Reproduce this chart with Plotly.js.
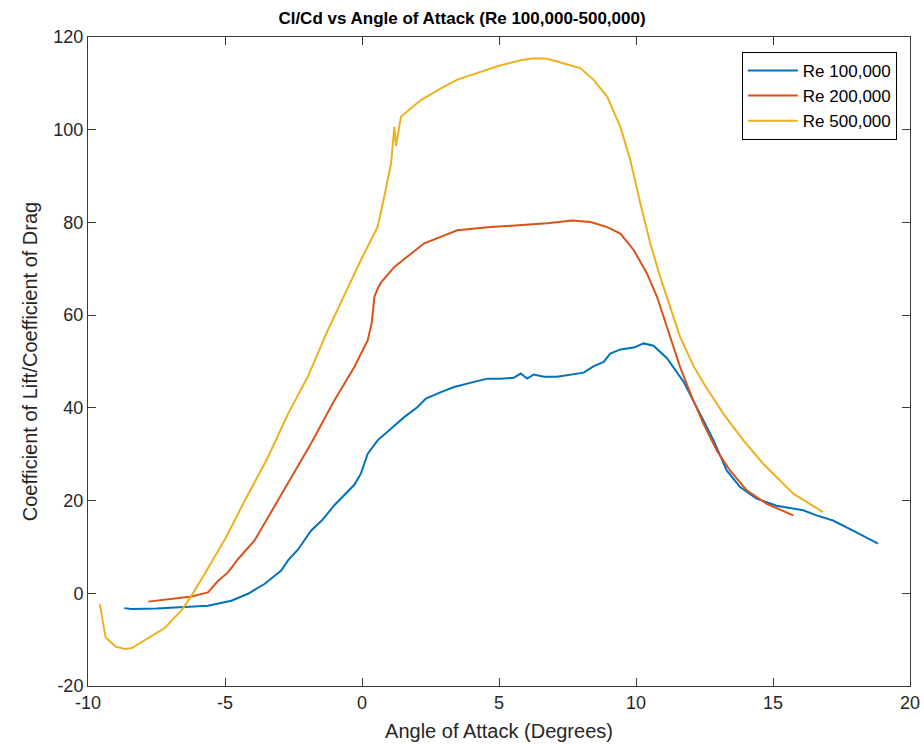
<!DOCTYPE html>
<html>
<head>
<meta charset="utf-8">
<script src="https://cdn.plot.ly/plotly-3.0.1.min.js"></script>
<style>html,body{margin:0;padding:0;background:#fff;}#chart{width:924px;height:744px;}</style>
</head>
<body>
<div id="chart"></div>
<script>
const seriesNames = ["Re 100,000", "Re 200,000", "Re 500,000"];
const seriesColors = ["#0072BD", "#D95319", "#EDB120"];

const re100_aoa = [-8.68,-8.41,-7.5,-6.59,-5.62,-4.77,-4.16,-3.56,-2.95,-2.70,-2.34,-1.86,-1.45,-1.01,-0.60,-0.28,-0.04,0.21,0.57,1.06,1.54,2.03,2.33,2.88,3.36,4.09,4.58,5.06,5.54,5.79,6.03,6.27,6.64,7.12,7.49,8.09,8.46,8.82,9.06,9.43,9.92,10.28,10.64,11.13,11.74,12.10,12.46,12.83,13.31,13.80,14.40,15.13,16.10,16.59,17.19,17.92,18.83];
const re100_clcd = [-3.2,-3.4,-3.3,-3.0,-2.7,-1.6,-0.1,2.0,4.9,7.1,9.4,13.5,15.8,19.0,21.4,23.4,25.8,30.1,33.0,35.5,38.0,40.2,42.0,43.4,44.5,45.6,46.3,46.3,46.5,47.4,46.3,47.2,46.7,46.7,47.0,47.6,49.0,49.9,51.7,52.6,53.0,53.9,53.4,50.7,45.6,41.6,37.3,33.0,26.5,22.9,20.4,18.9,17.9,16.8,15.7,13.5,10.7];

const re200_aoa = [-7.8,-7.2,-6.59,-6.22,-5.62,-5.25,-4.89,-4.52,-3.92,-3.56,-2.70,-1.86,-1.01,-0.28,0.21,0.36,0.45,0.57,0.69,1.18,2.27,3.48,4.70,5.79,6.52,6.76,7.67,8.34,8.95,9.43,9.92,10.40,10.77,11.13,11.49,11.61,12.04,12.46,12.95,13.43,14.04,14.77,15.74];
const re200_clcd = [-1.8,-1.4,-1.0,-0.7,0.2,2.7,4.5,7.4,11.4,15.0,23.6,32.3,41.6,48.8,54.6,58.5,63.9,65.7,67.0,70.4,75.5,78.3,79.0,79.4,79.7,79.8,80.4,80.1,79.0,77.6,74.0,69.0,63.9,57.5,51.0,48.8,42.3,36.6,30.8,26.5,22.2,19.3,16.8];

const re500_aoa = [-9.57,-9.36,-9.0,-8.65,-8.4,-7.8,-7.2,-6.59,-6.22,-5.74,-5.38,-4.95,-4.40,-3.43,-2.70,-1.98,-1.25,-0.52,-0.04,0.33,0.57,0.81,1.06,1.18,1.24,1.42,2.15,2.88,3.48,5.0,5.79,6.27,6.76,7.37,7.97,8.46,8.95,9.43,9.79,10.16,10.52,10.88,11.25,11.61,12.10,12.50,13.19,13.92,14.65,15.74,16.83];
const re500_clcd = [-2.3,-9.5,-11.5,-12.0,-11.8,-9.7,-7.5,-3.7,-0.5,4.2,7.8,12.2,18.6,29.4,38.7,46.7,56.7,66.1,71.9,76.2,79.0,85.5,92.7,100.6,96.5,102.8,106.4,108.9,110.8,113.8,115.0,115.4,115.3,114.3,113.3,110.7,107.1,100.6,93.5,84.1,75.5,68.3,61.8,55.3,49.0,45.0,38.7,33.0,27.9,21.5,17.5];

const xs = [re100_aoa, re200_aoa, re500_aoa];
const ys = [re100_clcd, re200_clcd, re500_clcd];

const traces = xs.map((x, i) => ({
  x: x, y: ys[i], type: 'scatter', mode: 'lines', name: seriesNames[i],
  line: {color: seriesColors[i], width: 2}
}));

const font = "'Liberation Sans', Arial, Helvetica, sans-serif";
const axisCommon = {
  showline: true, mirror: 'ticks', linecolor: '#3a3a3a', linewidth: 1,
  ticks: 'inside', ticklen: 8, tickcolor: '#3a3a3a', showgrid: false, zeroline: false,
  tickfont: {family: font, size: 18, color: '#262626'}
};

const layout = {
  width: 924, height: 744,
  margin: {l: 88, r: 14, t: 37, b: 58},
  paper_bgcolor: '#fff', plot_bgcolor: '#fff',
  font: {family: font, color: '#262626'},
  title: {text: '<b>Cl/Cd vs Angle of Attack (Re 100,000-500,000)</b>', font: {family: font, size: 17, color: '#000'}, x: 0.5, xref: 'container', xanchor: 'center', y: 0.976, yanchor: 'middle'},
  xaxis: Object.assign({}, axisCommon, {range: [-10, 20], tickvals: [-10,-5,0,5,10,15,20], ticktext: ['-10','-5','0','5','10','15','20'],
    title: {text: 'Angle of Attack (Degrees)', font: {family: font, size: 20, color: '#262626'}, standoff: 12}}),
  yaxis: Object.assign({}, axisCommon, {range: [-20, 120], tickvals: [-20,0,20,40,60,80,100,120], ticktext: ['-20','0','20','40','60','80','100','120'],
    title: {text: 'Coefficient of Lift/Coefficient of Drag', font: {family: font, size: 20, color: '#262626'}, standoff: 10}}),
  legend: {x: 0.984, xanchor: 'right', y: 0.977, yanchor: 'top', bordercolor: '#000', borderwidth: 1, bgcolor: '#fff',
    font: {family: font, size: 17, color: '#000'}, tracegroupgap: 0, itemwidth: 50},
  showlegend: true
};

Plotly.newPlot('chart', traces, layout, {displayModeBar: false, staticPlot: true});
</script>
</body>
</html>
